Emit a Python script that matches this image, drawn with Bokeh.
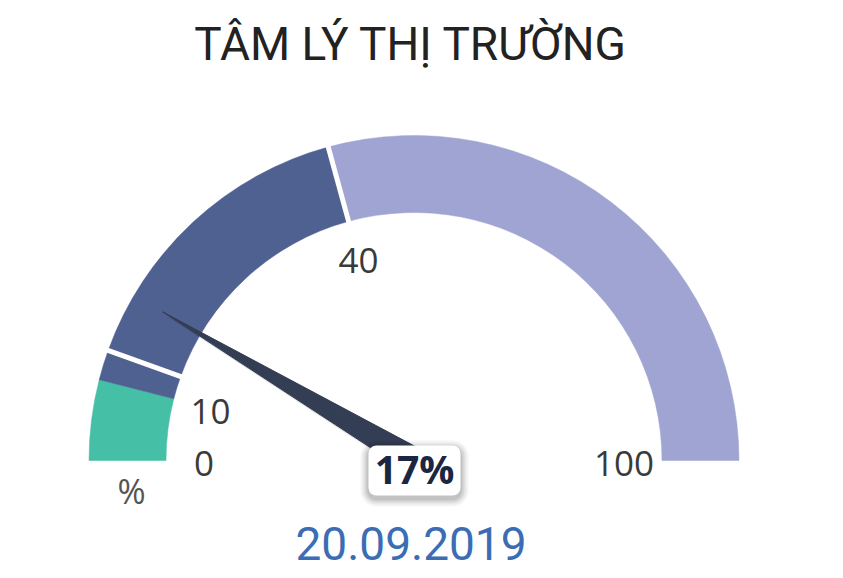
import numpy as np
from bokeh.plotting import figure
from bokeh.models import Range1d
from bokeh.core.properties import value
from bokeh.embed import file_html
from bokeh.resources import INLINE

# ---- data ----
title_text = "TÂM LÝ THỊ TRƯỜNG"
date_text = "20.09.2019"
unit_text = "%"
band_start = [0, 8, 11, 41.5]
band_end = [8, 11, 41.5, 100]
band_colors = ["#45BFA6", "#4F6190", "#4F6190", "#9FA4D3"]
separators = [11, 41.5]
tick_pos = [0, 8, 41.5, 100]
tick_labels = ["0", "10", "40", "100"]
needle_value = 17
needle_label = "17%"

# ---- layout constants ----
R_OUT, R_IN = 325, 248
R_LBL = 210
NEEDLE_LEN, NEEDLE_W = 292, 13


def ang(v):
    return np.pi * (1 - np.asarray(v, dtype=float) / 100.0)


p = figure(width=827, height=570, x_range=Range1d(-413.5, 413.5), y_range=Range1d(-110, 460),
           toolbar_location=None, output_backend="svg", min_border=0)
p.axis.visible = False
p.grid.visible = False
p.outline_line_color = None
p.background_fill_color = "white"
p.border_fill_color = "white"

# bands
p.annular_wedge(x=0, y=0, inner_radius=R_IN, outer_radius=R_OUT,
                start_angle=list(ang(band_end)), end_angle=list(ang(band_start)),
                fill_color=band_colors, line_color=band_colors, line_width=0.5)

# separators
sa = ang(separators)
p.segment(x0=list((R_IN - 4) * np.cos(sa)), y0=list((R_IN - 4) * np.sin(sa)),
          x1=list((R_OUT + 4) * np.cos(sa)), y1=list((R_OUT + 4) * np.sin(sa)),
          line_color="white", line_width=5)

# needle
t = float(ang(needle_value))
tip = (NEEDLE_LEN * np.cos(t), NEEDLE_LEN * np.sin(t))
nx, ny = -np.sin(t), np.cos(t)
xs = [tip[0], NEEDLE_W * nx, -NEEDLE_W * nx]
ys = [tip[1], NEEDLE_W * ny, -NEEDLE_W * ny]
p.patch(x=[v + 2 for v in xs], y=[v - 3 for v in ys], fill_color="black", fill_alpha=0.12, line_color=None)
p.patch(x=xs, y=ys, fill_color="#333D53", line_color="#333D53", line_width=1)

# value box with shadow
for i, a in enumerate([0.04, 0.05, 0.07, 0.09]):
    d = 8 - 2 * i
    p.quad(left=-45.5 - d, right=46.5 + d, top=15 + d - 3, bottom=-35 - d - 3,
           fill_color="black", fill_alpha=a, line_color=None, border_radius=8 + d)
p.quad(left=-45.5, right=46.5, top=15, bottom=-35, fill_color="white", line_color=None, border_radius=8)
p.text(x=[0.5], y=[-8], text=[needle_label], text_font=value("Open Sans"), text_font_style="bold",
       text_font_size="39px", text_align="center", text_baseline="middle", text_color="#1B2640")

# tick labels
ta = ang(tick_pos)
p.text(x=list(R_LBL * np.cos(ta)), y=list(R_LBL * np.sin(ta) - 3), text=tick_labels,
       text_font=value("Open Sans"), text_font_size="35px", text_align="center",
       text_baseline="middle", text_color="#3A3A3A")

# unit
p.text(x=[-282.5], y=[-30], text=[unit_text], text_font=value("Open Sans"), text_font_size="34px",
       text_align="center", text_baseline="middle", text_color="#555555")

# title & date
p.text(x=[-3], y=[417], text=[title_text], text_font=value("Roboto"), text_font_size="46px",
       text_align="center", text_baseline="middle", text_color="#222222")
p.text(x=[-3], y=[-83], text=[date_text], text_font=value("Roboto"), text_font_size="46px",
       text_align="center", text_baseline="middle", text_color="#3B6DB5")

open("out.html", "w").write(file_html(p, INLINE))
